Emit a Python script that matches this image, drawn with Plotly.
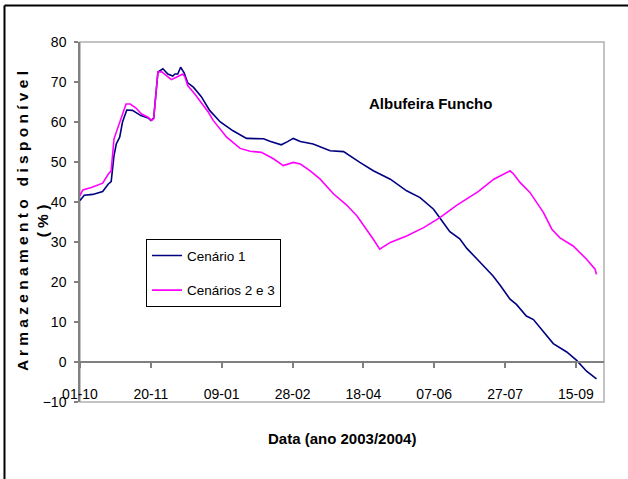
import plotly.graph_objects as go

# Dias contados a partir de 01-10-2003 (ano hidrológico 2003/2004)
dias_cenario1 = [0, 3, 9, 16, 20, 22, 24, 25.6, 28, 30, 33, 37, 43, 48, 50, 52, 55, 58.5,
                 62, 65.5, 67, 69, 71, 73.5, 76, 80, 85.5, 91.5, 99, 108, 117.5, 129.5,
                 134, 142, 146.5, 150.5, 155.5, 164.5, 176.5, 186, 197.5, 207, 219,
                 230.5, 240, 249.5, 254, 261, 268, 273, 280, 284.5, 291.5, 296.5, 303.5,
                 308, 315, 320, 327, 331.5, 334, 343.5, 350.5, 357.5, 364.5]
armaz_cenario1 = [40.4, 41.7, 41.9, 42.6, 44.5, 45.1, 51.6, 54.5, 56.2, 60.0, 63.0, 62.9,
                  61.6, 61.0, 60.4, 61.0, 72.5, 73.3, 72.0, 71.5, 72.0, 72.0, 73.7, 72.3,
                  69.8, 68.7, 66.4, 62.9, 60.0, 57.8, 55.9, 55.8, 55.2, 54.3, 55.1, 55.9,
                  55.1, 54.5, 52.8, 52.6, 49.9, 47.8, 45.7, 42.8, 41.1, 38.2, 36.0, 32.6,
                  30.8, 28.4, 25.8, 24.1, 21.5, 19.2, 15.7, 14.4, 11.5, 10.6, 7.7, 5.7,
                  4.6, 2.5, 0.4, -2.3, -4.2]

dias_cenarios23 = [0, 2, 8, 14, 16, 20, 22, 24, 28, 30.5, 32.5, 35.5, 39.5, 43.5, 48, 50.5,
                   52, 55, 57.5, 61, 64.5, 68, 72.5, 74, 76, 81, 85.5, 90.5, 94, 103.5,
                   113, 120, 128, 136.5, 143.5, 150.5, 155.5, 162.5, 169.5, 179, 188,
                   195.5, 207, 211.5, 219, 230.5, 242.5, 254, 266, 281, 292, 299, 303.5,
                   306, 310.5, 317.5, 327, 333, 338.5, 348, 357.5, 363.5, 364.5]
armaz_cenarios23 = [41.6, 43.0, 43.6, 44.5, 44.7, 47.0, 47.8, 55.8, 60.0, 62.5, 64.5, 64.5,
                    63.5, 62.0, 61.2, 60.4, 60.8, 72.5, 72.6, 71.6, 70.6, 71.2, 72.0, 71.3,
                    69.1, 67.0, 65.0, 62.5, 60.4, 56.2, 53.4, 52.7, 52.4, 50.8, 49.1, 49.9,
                    49.5, 47.8, 45.7, 42.0, 39.3, 36.5, 30.7, 28.2, 29.9, 31.5, 33.6, 36.1,
                    39.2, 42.6, 45.7, 47.0, 47.8, 47.0, 44.9, 42.4, 37.4, 33.2, 31.1, 29.0,
                    25.7, 23.2, 21.9]

tick_dias = [0, 50, 100, 150, 200, 250, 300, 350]
tick_datas = ["01-10", "20-11", "09-01", "28-02", "18-04", "07-06", "27-07", "15-09"]
y_ticks = [-10, 0, 10, 20, 30, 40, 50, 60, 70, 80]

FONTE = "Liberation Sans, Arial, sans-serif"

Y_MIN, Y_MAX = -10, 80

fig = go.Figure()
fig.add_trace(go.Scatter(
    x=dias_cenario1, y=armaz_cenario1, mode="lines", name="Cenário 1",
    line=dict(color="#000080", width=1.6), legendgroup="a",
))
fig.add_trace(go.Scatter(
    x=dias_cenarios23, y=armaz_cenarios23, mode="lines", name="Cenários 2 e 3",
    line=dict(color="#FF00FF", width=1.6), legendgroup="b",
))

# Borda da área do gráfico e moldura exterior
shapes = [
    dict(type="rect", xref="paper", yref="paper", x0=0, x1=1, y0=0, y1=1,
         line=dict(color="#b0b0b0", width=1.5), layer="below"),
    dict(type="line", xref="paper", yref="paper", x0=-0.1441, x1=1.05, y0=1.1014, y1=1.1014,
         line=dict(color="black", width=2)),
    dict(type="line", xref="paper", yref="paper", x0=-0.1441, x1=-0.1441, y0=1.1014, y1=-0.25,
         line=dict(color="black", width=2)),
]

fig.update_layout(
    width=628, height=479,
    margin=dict(l=80, r=24, t=42, b=77),
    paper_bgcolor="white", plot_bgcolor="white",
    font=dict(family=FONTE, size=14, color="black"),
    showlegend=True,
    legend=dict(
        x=0.126, y=0.452, xanchor="left", yanchor="top",
        bgcolor="white", bordercolor="black", borderwidth=1,
        font=dict(family=FONTE, size=13.5, color="black"),
        traceorder="grouped", tracegroupgap=14, itemwidth=30,
    ),
    xaxis=dict(
        range=[0, 369.8], tickmode="array", tickvals=tick_dias, ticktext=tick_datas,
        showgrid=False, zeroline=False, showline=True, linecolor="#808080", linewidth=1.5,
        ticks="outside", ticklen=5, tickcolor="#808080", tickwidth=1.5,
        anchor="free", position=(0 - Y_MIN) / (Y_MAX - Y_MIN),
        ticklabelstandoff=14,
        tickfont=dict(family=FONTE, size=14, color="black"),
    ),
    yaxis=dict(
        range=[Y_MIN, Y_MAX], tickmode="array", tickvals=y_ticks,
        showgrid=False, zeroline=False, showline=True, linecolor="#808080", linewidth=1.5,
        ticks="outside", ticklen=4, tickcolor="#808080", tickwidth=1.5,
        ticklabelstandoff=5,
        tickfont=dict(family=FONTE, size=14, color="black"),
    ),
    shapes=shapes,
    annotations=[
        dict(text="<b>Albufeira Funcho</b>", xref="paper", yref="paper",
             x=(430 - 80) / 524, y=1 - (103 - 42) / 360, xanchor="center", yanchor="middle",
             showarrow=False, font=dict(family=FONTE, size=15, color="black")),
        dict(text="<b>Data (ano 2003/2004)</b>", xref="paper", yref="paper",
             x=0.5, y=1 - (438 - 42) / 360, xanchor="center", yanchor="middle",
             showarrow=False, font=dict(family=FONTE, size=15, color="black")),
        dict(text="<b>A r m a z e n a m e n t o   d i s p o n í v e l<br>( % )</b>",
             xref="paper", yref="paper", textangle=-90,
             x=(32 - 80) / 524, y=1 - (221 - 42) / 360, xanchor="center", yanchor="middle",
             showarrow=False, font=dict(family=FONTE, size=15.5, color="black")),
    ],
)

fig.write_html("out.html")
